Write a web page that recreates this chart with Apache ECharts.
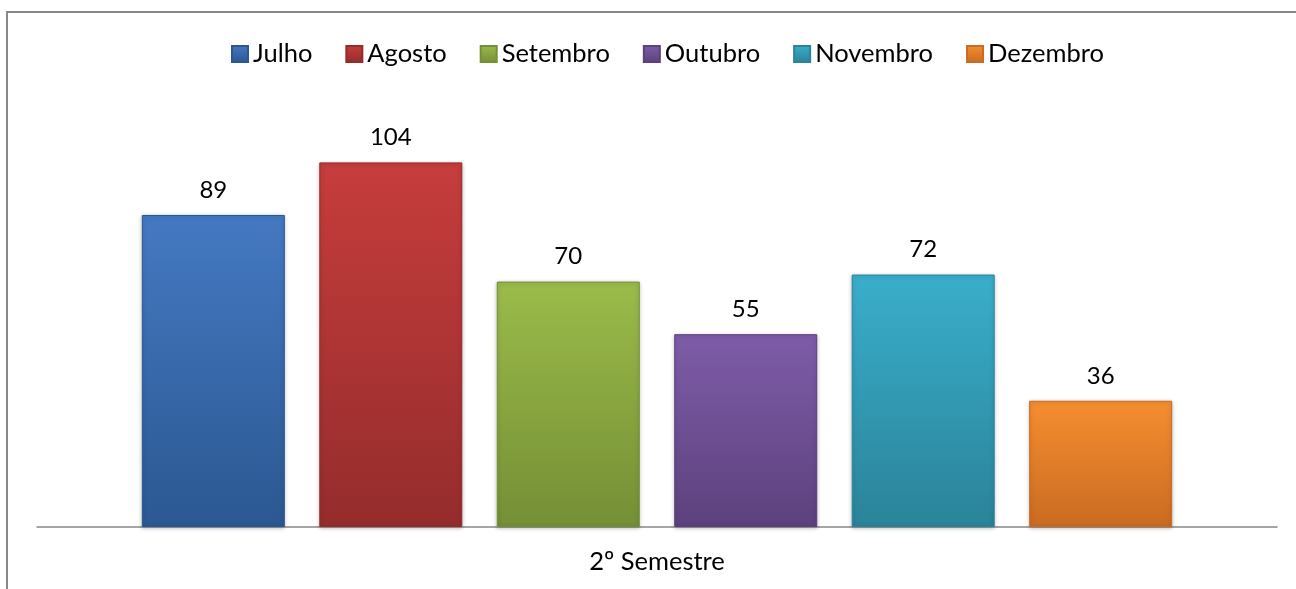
<!DOCTYPE html>
<html><head><meta charset="utf-8">
<script src="https://cdn.jsdelivr.net/npm/echarts@6/dist/echarts.min.js"></script>
<style>html,body{margin:0;padding:0;background:#fff}#c{width:1296px;height:589px}</style>
</head><body><div id="c"></div>
<script>
const categories = ['2º Semestre'];
const seriesNames = ['Julho','Agosto','Setembro','Outubro','Novembro','Dezembro'];
const seriesValues = [89, 104, 70, 55, 72, 36];
const topColors = ['#4479c2','#c63d3c','#9bbb4a','#7e5ca8','#3aaecb','#f68e30'];
const bottomColors = ['#2b5891','#952c2c','#748f35','#5c417d','#2a8399','#c96b22'];

const chart = echarts.init(document.getElementById('c'));
const FONT = 'Lato, "Open Sans", sans-serif';
const series = seriesNames.map((n, i) => ({
  name: n,
  type: 'bar',
  data: [seriesValues[i]],
  barWidth: 143,
  barGap: '24.1%',
  itemStyle: {
    color: {type:'linear', x:0, y:0, x2:0, y2:1, colorStops:[
      {offset:0, color: topColors[i]}, {offset:1, color: bottomColors[i]}]},
    borderColor: bottomColors[i], borderWidth: 1,
    shadowColor: 'rgba(0,0,0,0.25)', shadowBlur: 4, shadowOffsetY: 1
  },
  label: {show:true, position:'top', distance:13, color:'#000', fontSize:24, fontFamily:FONT},
  emphasis: {disabled:true}
}));
chart.setOption({
  animation: false,
  color: topColors,
  legend: {
    top: 36, left: 226, itemWidth: 16, itemHeight: 16, itemGap: 33,
    icon: 'rect',
    textStyle: {fontSize: 25.5, fontFamily: FONT, color: '#000'},
    data: seriesNames
  },
  grid: {left: 37, right: 19, top: 80, bottom: 62},
  xAxis: {
    type: 'category', data: categories,
    axisLine: {lineStyle: {color: '#888', width: 1.5}},
    axisTick: {show: false},
    axisLabel: {margin: 22, fontSize: 25.5, fontFamily: FONT, color: '#000'}
  },
  yAxis: {type: 'value', min: 0, max: 127.5, show: false, splitLine: {show: false}},
  graphic: [{
    type: 'rect', shape: {x: 7, y: 12, width: 1400, height: 700},
    style: {fill: 'none', stroke: '#888', lineWidth: 2}, silent: true, z: 100
  }],
  series: series
});
</script></body></html>
